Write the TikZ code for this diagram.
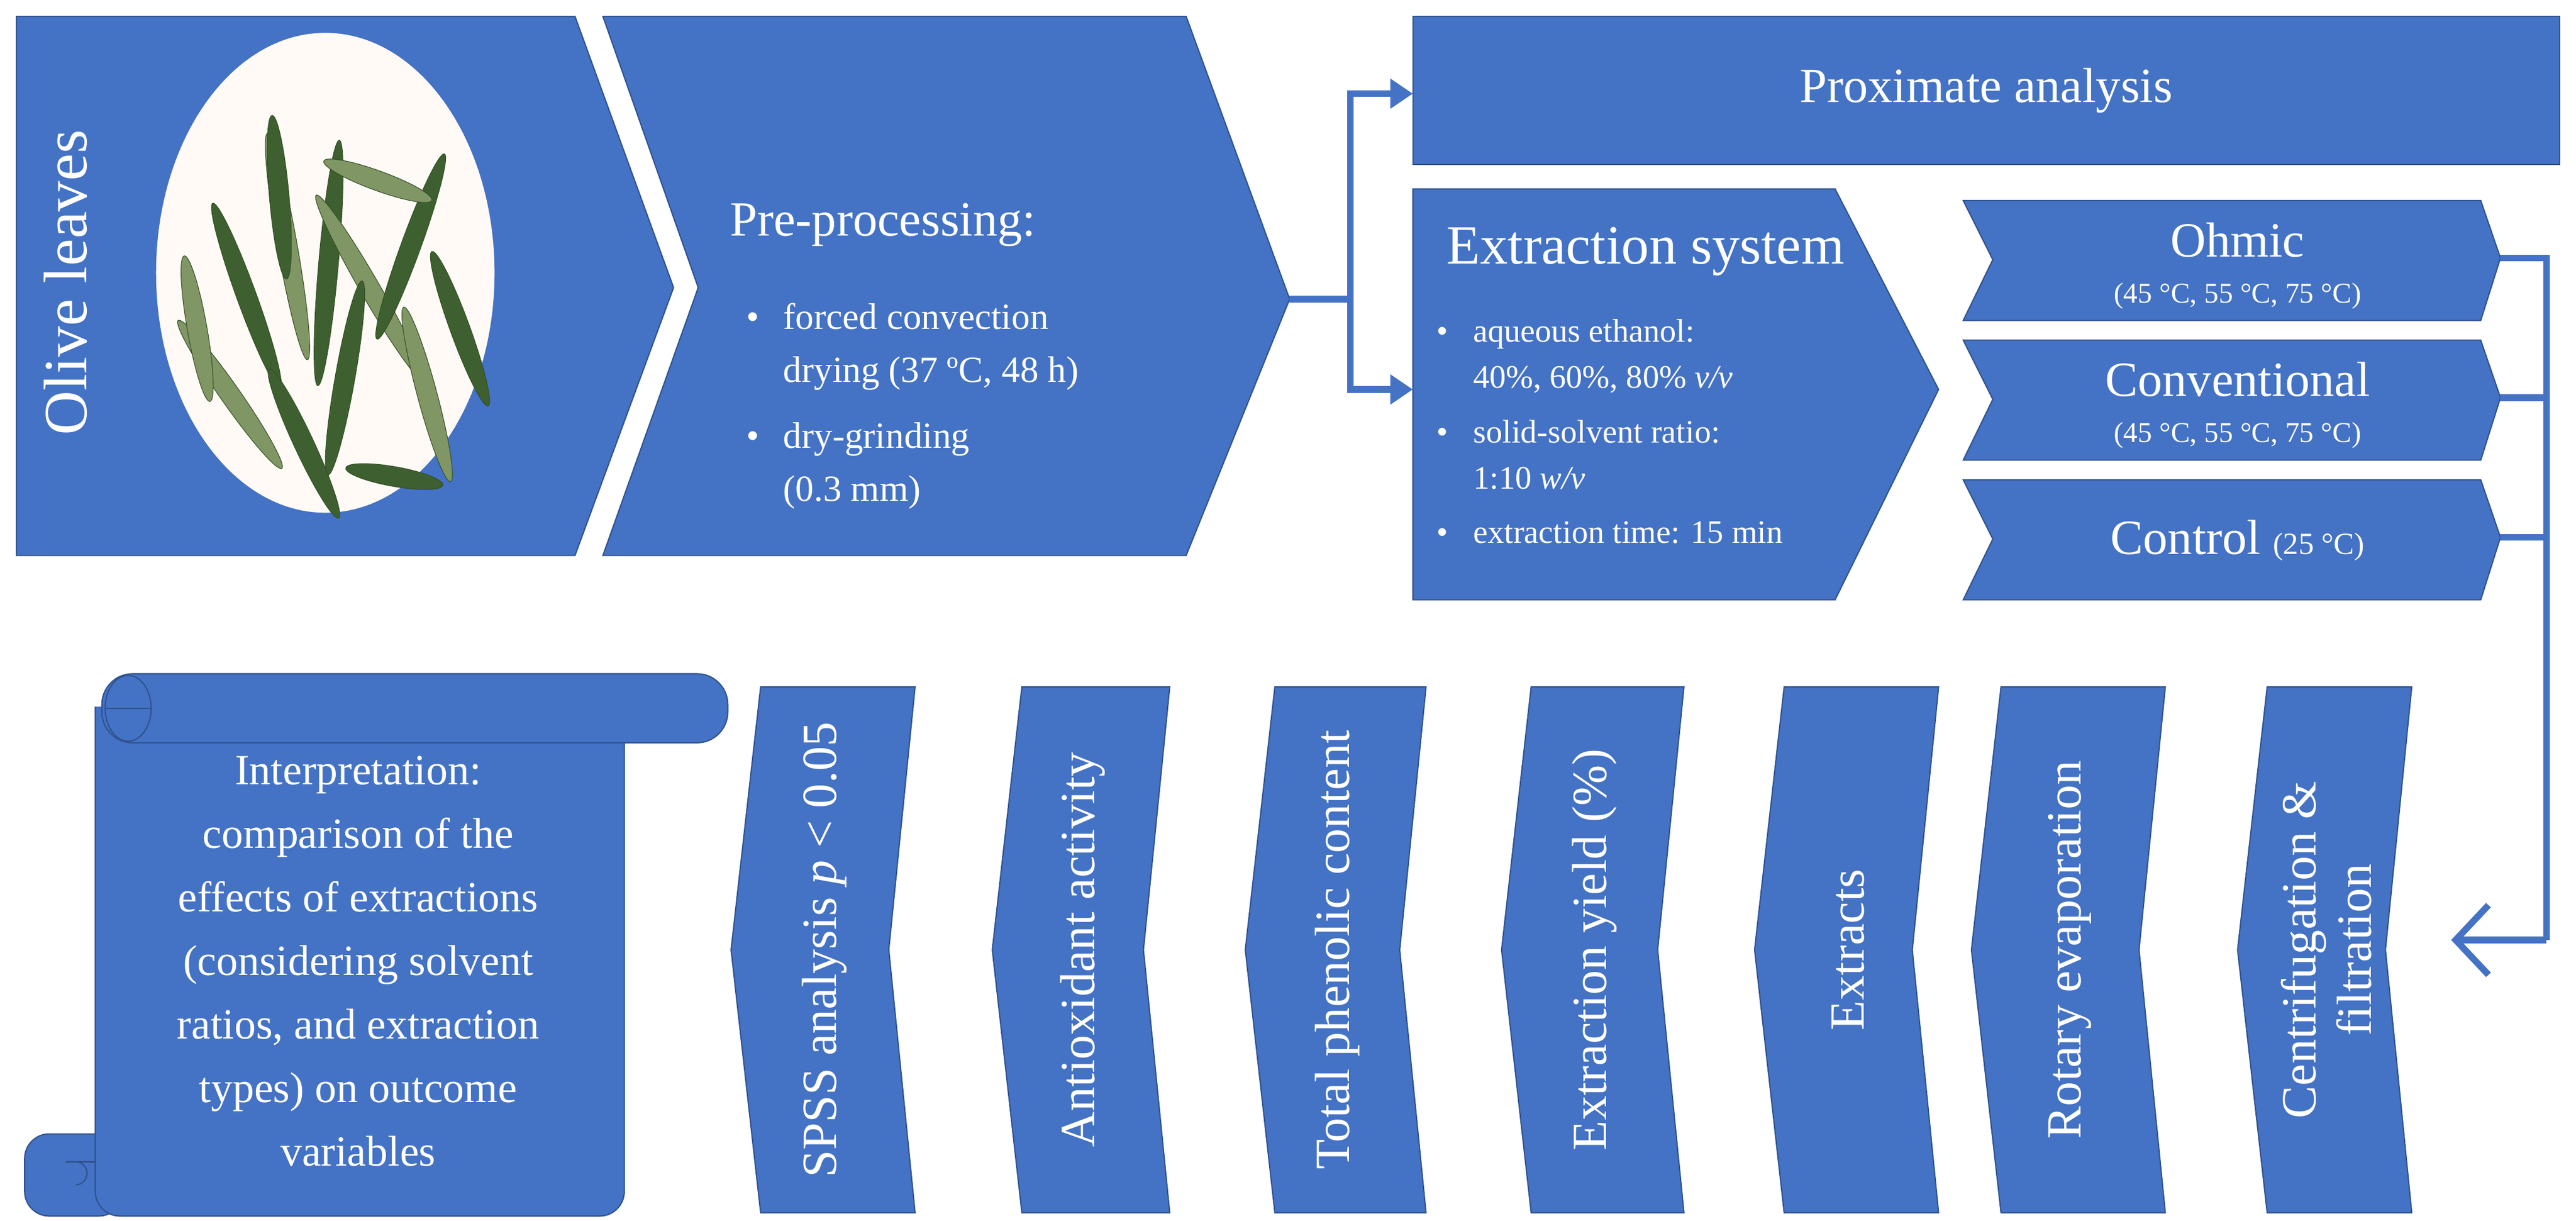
\documentclass[tikz,border=0pt]{standalone}
\usepackage{fontspec}
\setmainfont{Liberation Serif}
\usetikzlibrary{arrows.meta, positioning, calc}
\definecolor{stepblue}{RGB}{68, 114, 196}
\definecolor{edgeblue}{RGB}{47, 82, 143}
\definecolor{leafdark}{RGB}{62, 96, 48}
\definecolor{leaflight}{RGB}{128, 150, 100}
\tikzset{
    % Process shapes
    step shape/.style={fill=stepblue, draw=edgeblue, line width=0.6pt},
    step text/.style={text=white, align=center},
    list text/.style={text=white, align=left, anchor=north west},
    % Flow connector
    flow line/.style={draw=stepblue, line width=3.2pt},
    flow arrow/.style={flow line, -{Triangle[length=11pt, width=14pt]}},
    % Leaf in the photo
    leaf/.style={line width=0.3pt, draw=leafdark!80!black}
}
% left-pointing chevron of the lower row
\newcommand{\backchev}[4]{%
    \draw[step shape] (#1,418) -- (#2,418) -- (#2-16,578) -- (#2,738) -- (#1,738) -- (#1-18,578) -- cycle;
    \node[step text, rotate=90, font=\fontsize{24}{27}\selectfont] (#3) at ({(#1+#2)/2-8},578) {#4};
}
\newcommand{\blt}{\makebox[18pt][l]{\textbullet}}
\newcommand{\ind}{\hspace*{18pt}}
\begin{document}
\begin{tikzpicture}[x=0.02818cm, y=-0.02818cm]
    \useasboundingbox (0,0) rectangle (1568,743);

    % Olive leaves
    \draw[step shape] (10,10) -- (350,10) -- (410,175) -- (350,338) -- (10,338) -- cycle;
    \fill[white!96!orange] (198,166) ellipse [x radius=103, y radius=146];
    \foreach \px/\py/\ang/\len/\col in {
        150/180/70/120/leafdark, 175/150/80/140/leaflight, 200/160/95/150/leafdark,
        225/175/60/130/leaflight, 250/150/110/120/leafdark, 140/240/55/110/leaflight,
        210/230/100/120/leafdark, 260/240/75/110/leaflight, 185/270/65/100/leafdark,
        230/110/20/70/leaflight, 170/120/85/100/leafdark, 240/290/10/60/leafdark,
        120/200/80/90/leaflight, 280/200/70/100/leafdark}
        \filldraw[leaf, fill=\col] (\px,\py) ellipse [x radius=\len/2, y radius=6, rotate=-\ang];
    \node[step text, rotate=90, font=\fontsize{30}{34}\selectfont] (olive) at (40,172) {Olive leaves};

    % Pre-processing
    \draw[step shape] (367,10) -- (722,10) -- (785,182) -- (722,338) -- (367,338) -- (425,175) -- cycle;
    \node[step text, anchor=west, font=\fontsize{24}{28}\selectfont] (prep) at (440,137) {Pre-processing:};
    \node[list text, font=\fontsize{18}{26}\selectfont] (prepl) at (450,180) {%
        \blt forced convection\\ \ind drying (37 ºC, 48 h)\\[6pt]
        \blt dry-grinding\\ \ind (0.3 mm)};

    % Proximate analysis
    \draw[step shape] (860,10) rectangle (1558,100);
    \node[step text, font=\fontsize{24}{28}\selectfont] (prox) at (1209,55) {Proximate analysis};

    % Extraction system
    \draw[step shape] (860,115) -- (1117,115) -- (1180,237) -- (1117,365) -- (860,365) -- cycle;
    \node[step text, anchor=west, font=\fontsize{27}{31}\selectfont] (ext) at (876,153) {Extraction system};
    \node[list text, font=\fontsize{16}{22.5}\selectfont] (extl) at (870,190) {%
        \blt aqueous ethanol:\\ \ind 40\%, 60\%, 80\% \textit{v/v}\\[4pt]
        \blt solid-solvent ratio:\\ \ind 1:10 \textit{w/v}\\[4pt]
        \blt extraction time: 15 min};

    % Heating types
    \foreach \ty/\nm in {122/ohm, 207/conv, 292/ctrl} {
        \draw[step shape] (1195,\ty) -- (1510,\ty) -- (1522,\ty+35) -- (1510,\ty+73) -- (1195,\ty+73) -- (1213,\ty+36) -- cycle;
        \coordinate (\nm) at (1522,\ty+35);
    }
    \node[step text, font=\fontsize{24}{26}\selectfont] at (1362,146) {Ohmic};
    \node[step text, font=\fontsize{14}{16}\selectfont] at (1362,180) {(45 °C, 55 °C, 75 °C)};
    \node[step text, font=\fontsize{24}{26}\selectfont] at (1362,231) {Conventional};
    \node[step text, font=\fontsize{14}{16}\selectfont] at (1362,265) {(45 °C, 55 °C, 75 °C)};
    \node[step text, font=\fontsize{24}{26}\selectfont] at (1362,329) {Control {\fontsize{15}{16}\selectfont(25 °C)}};

    % Scroll
    \draw[step shape, rounded corners=12pt] (15,690) rectangle (75,740);
    \draw[step shape, rounded corners=12pt] (58,430) -- (58,740) -- (380,740) -- (380,430);
    \draw[edgeblue, line width=0.6pt] (58,707) -- (40,707);
    \draw[edgeblue, line width=0.6pt] (46,707) arc[start angle=270, end angle=450, radius=7] ;
    \draw[step shape, rounded corners=15pt] (62,410) rectangle (443,452);
    \draw[step shape] (78,431) ellipse [x radius=14, y radius=20];
    \draw[edgeblue, line width=0.6pt] (64,431) -- (92,431);
    \node[step text, font=\fontsize{21}{31}\selectfont] (interp) at (218,585) {%
        Interpretation:\\ comparison of the\\ effects of extractions\\ (considering solvent\\
        ratios, and extraction\\ types) on outcome\\ variables};

    % Lower row
    \backchev{463}{557}{spss}{SPSS analysis \textit{p} < 0.05}
    \backchev{622}{712}{anti}{Antioxidant activity}
    \backchev{776}{868}{tpc}{Total phenolic content}
    \backchev{932}{1025}{yield}{Extraction yield (\%)}
    \backchev{1086}{1180}{extr}{Extracts}
    \backchev{1218}{1318}{rot}{Rotary evaporation}
    \backchev{1380}{1468}{cent}{Centrifugation \&\\filtration}

    % Connectors
    \coordinate (split) at (822,182);
    \coordinate (rail) at (1550,572);
    \coordinate (ret) at (1492,572);
    \draw[flow line] (785,182) -- (split);
    \draw[flow arrow] (split) |- (860,57);
    \draw[flow arrow] (split) |- (860,237);
    \draw[flow line] (ohm) -| (rail);
    \draw[flow line] (conv) -- (1550,242);
    \draw[flow line] (ctrl) -- (1550,327);
    \draw[flow line, -{Straight Barb[length=16pt, width=34pt, line width=3.2pt]}] (rail) -- (ret);
\end{tikzpicture}
\end{document}
